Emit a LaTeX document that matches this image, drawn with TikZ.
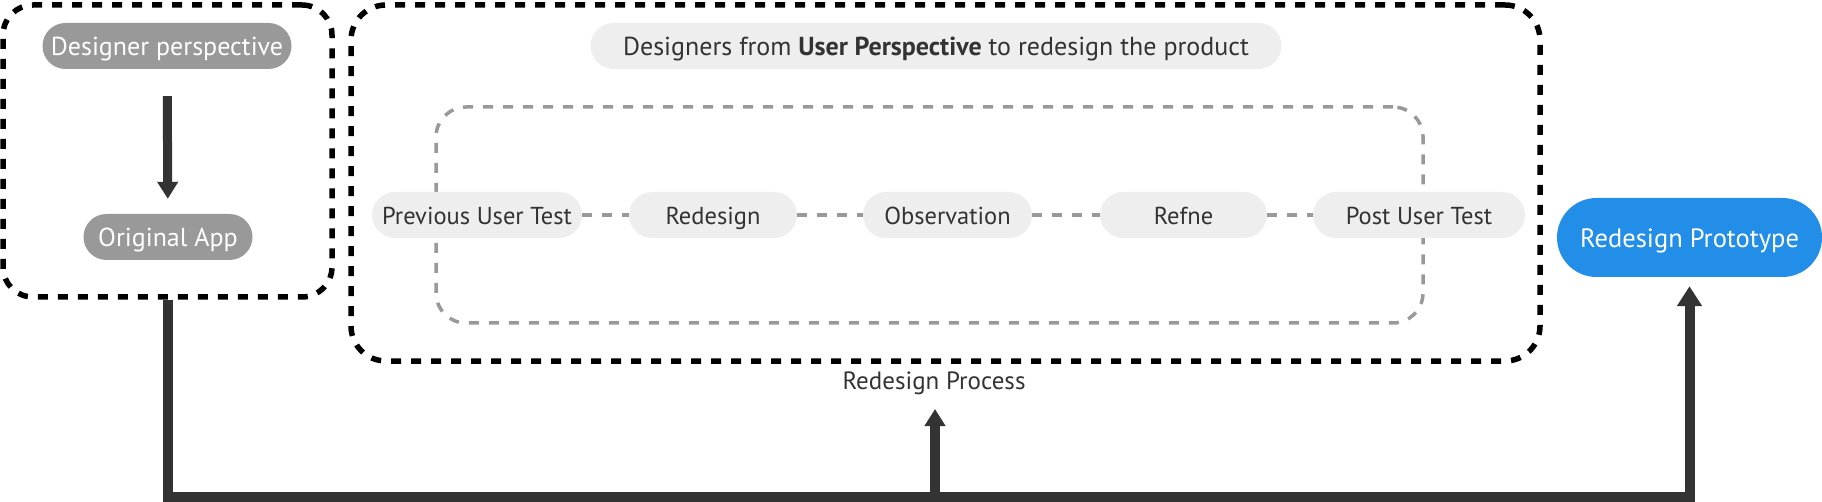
\documentclass[tikz,border=0pt]{standalone}
\usepackage{fontspec}
\setmainfont{PT Sans}
\usetikzlibrary{arrows.meta}
\definecolor{pilldark}{HTML}{999999}
\definecolor{pilllight}{HTML}{EEEEEE}
\definecolor{ink}{HTML}{333333}
\definecolor{dashgray}{HTML}{999999}
\definecolor{protoblue}{HTML}{238EE8}
\begin{document}
\begin{tikzpicture}[x=1pt,y=-1pt,
  pillbase/.style={rectangle, rounded corners=23pt, inner sep=0pt, minimum height=46pt,
    text height=22pt, text depth=2pt},
  darkpill/.style={pillbase, fill=pilldark, text=white, font=\fontsize{26}{30}\selectfont},
  lightpill/.style={pillbase, fill=pilllight, text=ink, font=\fontsize{24.5}{29}\selectfont},
  blackbox/.style={rectangle, draw=black, line width=5.5pt, dash pattern=on 10pt off 10pt, inner sep=0pt},
  graybox/.style={rectangle, draw=dashgray, line width=3.5pt, dash pattern=on 10pt off 10pt, inner sep=0pt, rounded corners=30pt},
  link/.style={draw=dashgray, line width=3.5pt, dash pattern=on 10pt off 10pt},
  flow/.style={draw=ink, line width=10pt, line join=miter},
  tip/.style={-{Triangle[width=20pt,length=17pt]}},
  bigtip/.style={-{Triangle[width=24pt,length=20pt]}}
]
\useasboundingbox (0,0) rectangle (1822,502);

% containers
\node[blackbox, rounded corners=30pt, minimum width=329pt, minimum height=292pt] (leftbox) at (167.5,151) {};
\node[blackbox, rounded corners=35pt, minimum width=1189pt, minimum height=356pt] (mainbox) at (945.5,183) {};
\node[graybox, minimum width=987pt, minimum height=216pt] (innerbox) at (929.5,215) {};

% left column
\node[darkpill, minimum width=249pt] (dp) at (167,46) {Designer perspective};
\node[darkpill, minimum width=169pt] (oa) at (168,237) {Original App};
\draw[flow, line width=9pt, tip, shorten <=27pt, shorten >=15pt] (dp) -- (oa);

% top label
\node[lightpill, minimum width=691pt, font=\fontsize{26}{30}\selectfont] (toplabel) at (936,46) {Designers from \textbf{User Perspective} to redesign the product};

% process row
\node[lightpill, minimum width=210pt] (prev) at (477,215) {Previous User Test};
\node[lightpill, minimum width=168pt] (redes) at (713,215) {Redesign};
\node[lightpill, minimum width=169pt] (obs) at (947.5,215) {Observation};
\node[lightpill, minimum width=167pt] (refne) at (1183.5,215) {Refne};
\node[lightpill, minimum width=212pt] (post) at (1419,215) {Post User Test};
\draw[link] (prev) -- (redes);
\draw[link] (redes) -- (obs);
\draw[link] (obs) -- (refne);
\draw[link] (refne) -- (post);

% process caption
\node[text=ink, font=\fontsize{25}{29}\selectfont, inner sep=0pt] (proc) at (934,383) {Redesign Process};

% prototype
\node[rectangle, rounded corners=39.5pt, fill=protoblue, text=white, inner sep=0pt,
  minimum width=265pt, minimum height=79pt, text height=22pt, text depth=2pt,
  font=\fontsize{26.5}{30}\selectfont] (proto) at (1689.5,237.5) {Redesign Prototype};

% bottom flow
\coordinate (bmid) at (935,496.5);
\coordinate (procin) at (935,409);
\draw[flow, bigtip] (leftbox.south) |- (bmid) -| ([yshift=-9pt]proto.south);
\draw[flow, tip] (bmid) -- (procin);
\end{tikzpicture}
\end{document}
